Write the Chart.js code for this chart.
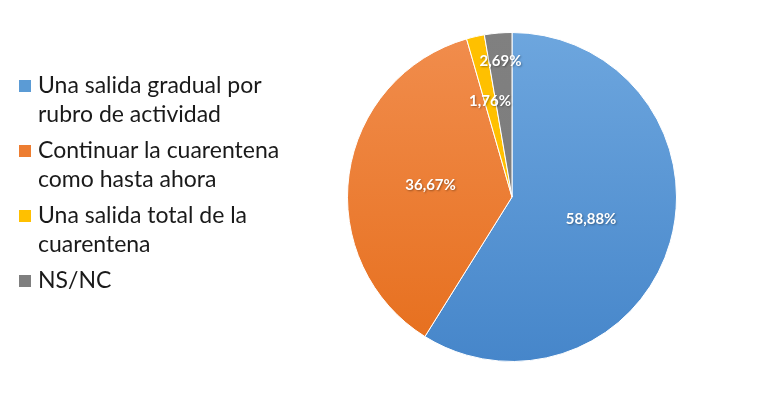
<!DOCTYPE html>
<html>
<head>
<meta charset="utf-8">
<script src="https://cdn.jsdelivr.net/npm/chart.js@4/dist/chart.umd.min.js"></script>
<style>
  html, body { margin: 0; padding: 0; background: #fff; }
  #wrap { position: relative; width: 760px; height: 393px; overflow: hidden; }
  #pieChart { position: absolute; left: 0; top: 0; }
  #legend { position: absolute; left: 19px; top: 70px; font-family: Lato, "Open Sans", sans-serif; font-size: 23px; color: #1a1a1a; }
  .item { position: relative; padding-left: 19px; line-height: 29px; margin-bottom: 7px; }
  .box { position: absolute; left: 0; top: 10px; width: 12px; height: 12px; }
</style>
</head>
<body>
<div id="wrap">
  <canvas id="pieChart" width="760" height="393"></canvas>
  <div id="legend"></div>
</div>
<script>
// datos del grafico
const categorias = [
  ["Una salida gradual por", "rubro de actividad"],
  ["Continuar la cuarentena", "como hasta ahora"],
  ["Una salida total de la", "cuarentena"],
  ["NS/NC"]
];
const valores = [58.88, 36.67, 1.76, 2.69];

const coloresLegend = ["#5B9BD5", "#ED7D31", "#FFC000", "#7F7F7F"];
const gradientes = [
  ["#6DA6DE", "#4686CA"],
  ["#F18D4D", "#E66E1C"],
  ["#FFC000", "#FFC000"],
  ["#808080", "#7A7A7A"]
];
const radioEtiqueta = [0.5, 0.5, 0.6, 0.83];

// leyenda html
const legend = document.getElementById("legend");
categorias.forEach((cat, i) => {
  const div = document.createElement("div");
  div.className = "item";
  div.innerHTML = '<span class="box" style="background:' + coloresLegend[i] + '"></span>' + cat.join("<br>");
  legend.appendChild(div);
});

function fmt(v) {
  return v.toFixed(2).replace(".", ",") + "%";
}

const etiquetas = {
  id: "etiquetas",
  afterDatasetsDraw(chart) {
    const ctx = chart.ctx;
    const meta = chart.getDatasetMeta(0);
    ctx.save();
    ctx.font = "bold 15px Lato, 'Open Sans', sans-serif";
    ctx.textAlign = "center";
    ctx.textBaseline = "middle";
    meta.data.forEach((arc, i) => {
      const p = arc.getProps(["x", "y", "startAngle", "endAngle", "outerRadius"], true);
      const a = (p.startAngle + p.endAngle) / 2;
      const r = p.outerRadius * radioEtiqueta[i];
      const x = p.x + Math.cos(a) * r;
      const y = p.y + Math.sin(a) * r;
      ctx.shadowColor = "rgba(0,0,0,0.35)";
      ctx.shadowBlur = 2;
      ctx.shadowOffsetX = 1;
      ctx.shadowOffsetY = 1;
      ctx.fillStyle = "#ffffff";
      ctx.fillText(fmt(valores[i]), x, y);
    });
    ctx.restore();
  }
};

const pieCtx = document.getElementById("pieChart");
new Chart(pieCtx, {
  type: "pie",
  data: {
    labels: categorias,
    datasets: [{
      data: valores,
      backgroundColor: (c) => {
        const area = c.chart.chartArea;
        if (!area) return coloresLegend[c.dataIndex];
        const g = c.chart.ctx.createLinearGradient(0, area.top, 0, area.bottom);
        g.addColorStop(0, gradientes[c.dataIndex][0]);
        g.addColorStop(1, gradientes[c.dataIndex][1]);
        return g;
      },
      borderColor: "#ffffff",
      borderWidth: 1
    }]
  },
  options: {
    responsive: false,
    animation: false,
    layout: {
      padding: { left: 347, right: 83, top: 32, bottom: 31 }
    },
    plugins: {
      legend: { display: false },
      tooltip: { enabled: false }
    }
  },
  plugins: [etiquetas]
});
</script>
</body>
</html>
